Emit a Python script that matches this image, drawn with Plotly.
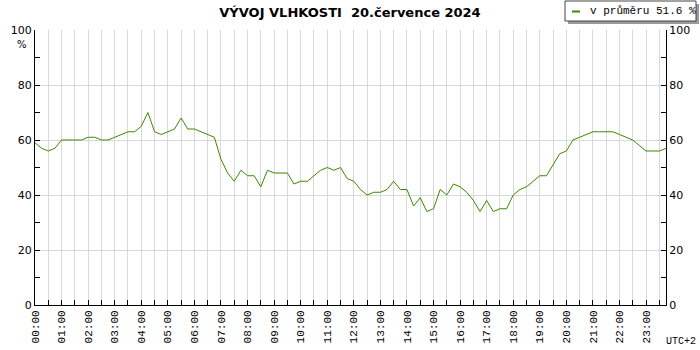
import numpy as np
import plotly.graph_objects as go

# ---- data (15-minute readings, 20.7.2024) ----
times = [f"2024-07-20 {h:02d}:{m:02d}" for h in range(24) for m in (0, 15, 30, 45)]
humidity = [
    59, 57, 56, 57,  60, 60, 60, 60,  61, 61, 60, 60,  61, 62, 63, 63,
    65, 70, 63, 62,  63, 64, 68, 64,  64, 63, 62, 61,  53, 48, 45, 49,
    47, 47, 43, 49,  48, 48, 48, 44,  45, 45, 47, 49,  50, 49, 50, 46,
    45, 42, 40, 41,  41, 42, 45, 42,  42, 36, 39, 34,  35, 42, 40, 44,
    43, 41, 38, 34,  38, 34, 35, 35,  40, 42, 43, 45,  47, 47, 51, 55,
    56, 60, 61, 62,  63, 63, 63, 63,  62, 61, 60, 58,  56, 56, 56, 57,
]
hour_ticks = [f"2024-07-20 {h:02d}:00" for h in range(24)]
hour_labels = [f"{h:02d}:00" for h in range(24)]
y_ticks = [0, 20, 40, 60, 80, 100]

title_text = "VÝVOJ VLHKOSTI\u00a0 20.července 2024"
avg = float(np.mean(humidity))
legend_text = f"v průměru {avg:.1f} %"

LINE_COLOR = "#3a8a00"
GRID = "#d9d9d9"

# plot area in pixels
L, R, T, B = 35, 666, 30, 305
W, H = 700, 350


def px(xp):
    return (xp - L) / (R - L)


def py(yp):
    return (B - yp) / (B - T)


fig = go.Figure()
fig.add_trace(go.Scatter(
    x=times, y=humidity, mode="lines", name=legend_text,
    line=dict(color=LINE_COLOR, width=1), showlegend=False,
    hoverinfo="x+y",
))
# same series bound to the right-hand axis (invisible) so that axis gets its labels
fig.add_trace(go.Scatter(
    x=times, y=humidity, mode="lines", yaxis="y2",
    line=dict(color="rgba(0,0,0,0)", width=0), showlegend=False, hoverinfo="skip",
))

axis_font = dict(family="DejaVu Sans", size=11, color="#000")
mono = "Liberation Mono"

fig.update_layout(
    width=W, height=H,
    margin=dict(l=L, r=W - R, t=T, b=H - B, autoexpand=False),
    paper_bgcolor="white", plot_bgcolor="white",
    title=dict(text=title_text, x=0.5, xanchor="center", y=1 - 12 / H, yanchor="middle",
               font=dict(family="DejaVu Sans", size=13, color="#000", weight="bold")),
    xaxis=dict(
        type="date", range=[times[0], times[-1]],
        tickmode="array", tickvals=hour_ticks, ticktext=hour_labels,
        tickangle=-90, tickfont=dict(family=mono, size=11, color="#000"),
        ticks="inside", ticklen=5, tickcolor="#000",
        showgrid=True, gridcolor=GRID, gridwidth=1,
        minor=dict(dtick=1800000, tick0=times[0], ticks="inside", ticklen=5,
                   tickcolor="#000", showgrid=True, gridcolor=GRID),
        showline=True, linecolor="#000", linewidth=1, mirror=False,
        zeroline=False, fixedrange=True,
    ),
    yaxis=dict(
        range=[0, 100], tickmode="array", tickvals=y_ticks,
        tickfont=axis_font, ticks="inside", ticklen=5, tickcolor="#000",
        showgrid=True, gridcolor=GRID,
        minor=dict(dtick=10, tick0=0, ticks="inside", ticklen=5, tickcolor="#000", showgrid=False),
        showline=True, linecolor="#000", linewidth=1, zeroline=False, fixedrange=True,
    ),
    yaxis2=dict(
        range=[0, 100], overlaying="y", side="right", anchor="x",
        tickmode="array", tickvals=y_ticks,
        tickfont=axis_font, ticks="inside", ticklen=5, tickcolor="#000",
        minor=dict(dtick=10, tick0=0, ticks="inside", ticklen=5, tickcolor="#000", showgrid=False),
        showgrid=False, showline=True, linecolor="#000", linewidth=1, zeroline=False, fixedrange=True,
    ),
    shapes=[
        # legend shadow
        dict(type="rect", xref="paper", yref="paper", x0=px(568), x1=px(699), y0=py(24), y1=py(4),
             fillcolor="#9a9a9a", line=dict(width=0), layer="above"),
        # legend box
        dict(type="rect", xref="paper", yref="paper", x0=px(565), x1=px(696), y0=py(21), y1=py(1),
             fillcolor="white", line=dict(color="#444", width=1), layer="above"),
        # legend line sample
        dict(type="line", xref="paper", yref="paper", x0=px(572), x1=px(580), y0=py(11.5), y1=py(11.5),
             line=dict(color=LINE_COLOR, width=2), layer="above"),
    ],
    annotations=[
        dict(text=legend_text, xref="paper", yref="paper", x=px(588), y=py(11.5),
             xanchor="left", yanchor="middle", showarrow=False,
             font=dict(family=mono, size=11, color="#000")),
        dict(text="%", xref="paper", yref="paper", x=px(29), y=py(44),
             xanchor="right", yanchor="middle", showarrow=False,
             font=dict(family="DejaVu Sans", size=10, color="#000")),
        dict(text="UTC+2", xref="paper", yref="paper", x=px(698), y=py(341),
             xanchor="right", yanchor="middle", showarrow=False,
             font=dict(family=mono, size=10, color="#000")),
    ],
)

fig.write_html(
    "out.html",
    config={"displayModeBar": False},
    post_script="document.body.style.margin='0';document.body.style.padding='0';",
)
